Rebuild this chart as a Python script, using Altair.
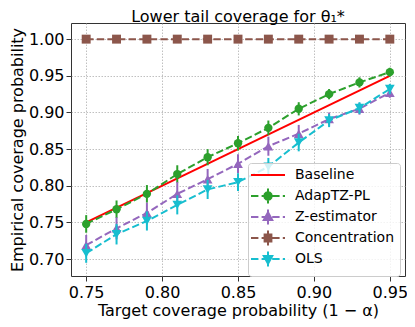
import altair as alt
import pandas as pd

# ---- data ----
x_vals = [0.75, 0.77, 0.79, 0.81, 0.83, 0.85, 0.87, 0.89, 0.91, 0.93, 0.95]

adaptz = [0.748, 0.768, 0.789, 0.816, 0.839, 0.858, 0.879, 0.905, 0.925, 0.941, 0.955]
adaptz_err = [0.012, 0.012, 0.012, 0.012, 0.011, 0.010, 0.010, 0.009, 0.007, 0.007, 0.006]

zest = [0.719, 0.742, 0.763, 0.789, 0.809, 0.830, 0.854, 0.871, 0.891, 0.905, 0.927]
zest_err = [0.014, 0.015, 0.014, 0.016, 0.014, 0.013, 0.013, 0.012, 0.009, 0.008, 0.007]

conc = [1.0, 1.0, 1.0, 1.0, 1.0, 1.0, 1.0, 1.0, 1.0, 1.0, 1.0]
conc_err = [0.0, 0.0, 0.0, 0.0, 0.0, 0.0, 0.0, 0.0, 0.0, 0.0, 0.0]

ols = [0.708, 0.734, 0.752, 0.774, 0.795, 0.805, 0.826, 0.859, 0.889, 0.906, 0.932]
ols_err = [0.013, 0.014, 0.013, 0.013, 0.013, 0.012, 0.012, 0.012, 0.009, 0.008, 0.007]

baseline_x = [0.75, 0.95]
baseline_y = [0.75, 0.95]

methods = ["Baseline", "AdapTZ-PL", "Z-estimator", "Concentration", "OLS"]
colors = ["#ff0000", "#2ca02c", "#9467bd", "#8c564b", "#17becf"]
marker_shapes = ["circle", "triangle-up", "square", "triangle-down"]
marker_sizes = [70, 95, 80, 95]

x_ticks = [0.75, 0.80, 0.85, 0.90, 0.95]
y_ticks = [0.70, 0.75, 0.80, 0.85, 0.90, 0.95, 1.00]

# ---- legend symbols (line + marker + errorbar as custom paths) ----
dash = "M-3.4,0L-1.92,0M-1.28,0L0.2,0M0.84,0L2.32,0M2.96,0L3.4,0"
ebar = "M0,-1.5L0,1.5"
circ = ("M0.75,0L0.65,0.375L0.375,0.65L0,0.75L-0.375,0.65L-0.65,0.375L-0.75,0"
        "L-0.65,-0.375L-0.375,-0.65L0,-0.75L0.375,-0.65L0.65,-0.375Z")
legend_paths = [
    "M0,-1.5M0,1.5M-3.4,0L3.4,0",
    dash + ebar + circ,
    dash + ebar + "M0,-0.95L0.85,0.6L-0.85,0.6Z",
    dash + ebar + "M-0.68,-0.68L0.68,-0.68L0.68,0.68L-0.68,0.68Z",
    dash + ebar + "M0,0.95L0.85,-0.6L-0.85,-0.6Z",
]

series = [
    ("AdapTZ-PL", adaptz, adaptz_err),
    ("Z-estimator", zest, zest_err),
    ("Concentration", conc, conc_err),
    ("OLS", ols, ols_err),
]
rows = []
for name, ys, es in series:
    for xv, yv, ev in zip(x_vals, ys, es):
        rows.append({"method": name, "x": xv, "y": yv, "lo": yv - ev, "hi": yv + ev})
df = pd.DataFrame(rows)
base_df = pd.DataFrame({"method": ["Baseline"] * len(baseline_x), "x": baseline_x, "y": baseline_y})

xscale = alt.Scale(domain=[0.74, 0.96], nice=False, zero=False)
yscale = alt.Scale(domain=[0.677, 1.022], nice=False, zero=False)
# plot-mark colour scale: same mapping, different domain order so that its
# (disabled) legend is not merged with the visible legend below
color_scale = alt.Scale(domain=methods[1:] + methods[:1], range=colors[1:] + colors[:1])

x_axis = alt.Axis(title="Target coverage probability (1 − α)", values=x_ticks, format=".2f")
y_axis = alt.Axis(title="Empirical coverage probability", values=y_ticks, format=".2f")


def X():
    return alt.X("x:Q", scale=xscale, axis=x_axis)


def Y(field="y:Q"):
    return alt.Y(field, scale=yscale, axis=y_axis)


def C():
    return alt.Color("method:N", scale=color_scale, legend=None)


def L():
    return alt.Legend(title=None, orient="none", legendX=177, legendY=140)


layers = [
    alt.Chart(base_df).mark_line(strokeWidth=2).encode(x=X(), y=Y(), color=C())
]

for (name, _, _), shp, sz in zip(series, marker_shapes, marker_sizes):
    src = alt.Chart(df).transform_filter(alt.datum.method == name)
    layers.append(
        src.mark_line(strokeWidth=2, strokeDash=[7.4, 3.2]).encode(x=X(), y=Y(), color=C())
    )
    layers.append(
        src.mark_rule(strokeWidth=2).encode(x=X(), y=Y("lo:Q"), y2="hi:Q", color=C())
    )
    layers.append(
        src.mark_point(filled=True, opacity=1, shape=shp, size=sz).encode(x=X(), y=Y(), color=C())
    )

# legend-only layer: invisible points, legend symbols forced opaque
legend_layer = (
    alt.Chart(df)
    .mark_point(filled=True, opacity=0)
    .encode(
        x=X(),
        y=Y(),
        fill=alt.Fill("method:N", scale=alt.Scale(domain=methods, range=colors), legend=L()),
        stroke=alt.Stroke("method:N", scale=alt.Scale(domain=methods, range=colors), legend=L()),
        shape=alt.Shape("method:N", scale=alt.Scale(domain=methods, range=legend_paths), legend=L()),
    )
)
layers.append(legend_layer)

chart = (
    alt.layer(*layers)
    .properties(
        width=334,
        height=253,
        autosize=alt.AutoSizeParams(type="none"),
        padding={"left": 63, "top": 15, "right": 2, "bottom": 43},
        title=alt.Title(
            "Lower tail coverage for θ₁*",
            font="DejaVu Sans",
            fontSize=16,
            fontWeight="normal",
            color="black",
            anchor="middle",
            frame="group",
            offset=-2,
        ),
    )
    .configure_view(stroke="#333333", strokeWidth=1)
    .configure_axis(
        grid=True,
        gridColor="#b0b0b0",
        gridDash=[1.5, 1.5],
        gridWidth=0.8,
        domain=False,
        tickColor="#333333",
        tickSize=5,
        tickWidth=1,
        labelFont="DejaVu Sans",
        labelFontSize=16,
        labelColor="black",
        titleFont="DejaVu Sans",
        titleFontSize=16,
        titleFontWeight="normal",
        titleColor="black",
        labelPadding=2,
    )
    .configure_axisX(titlePadding=2, labelPadding=3)
    .configure_axisY(titlePadding=3)
    .configure_legend(
        padding=5,
        fillColor="rgba(255,255,255,0.8)",
        strokeColor="#cccccc",
        cornerRadius=3,
        labelFont="DejaVu Sans",
        labelFontSize=14,
        labelColor="black",
        symbolSize=100,
        symbolStrokeWidth=2,
        symbolOpacity=1,
        symbolOffset=8,
        labelOffset=20,
        rowPadding=-3,
        labelLimit=300,
    )
)

chart.save("out.html", embed_options={"renderer": "svg", "actions": False})
